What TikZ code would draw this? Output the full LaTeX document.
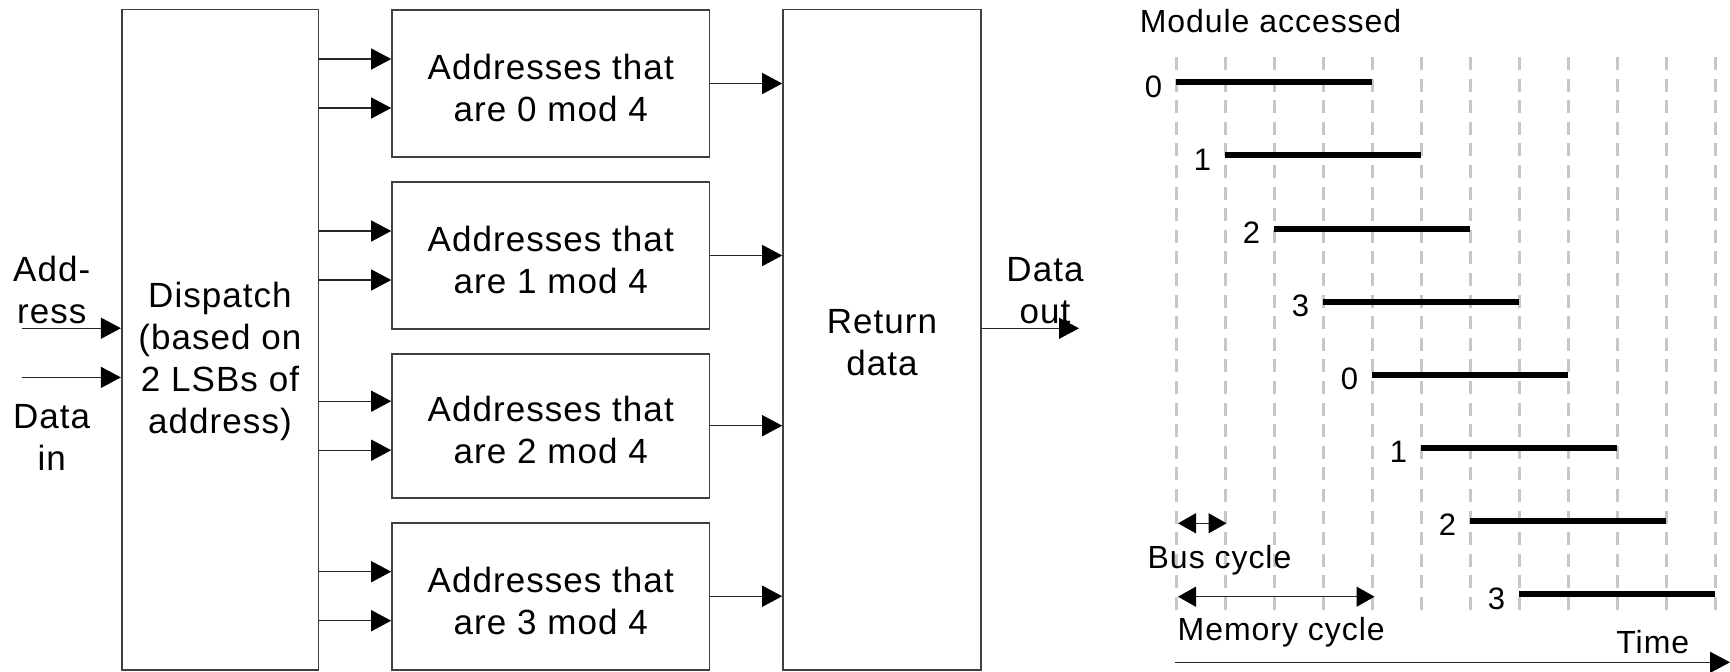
\documentclass[tikz,border=0pt]{standalone}
\usepackage{fontspec}
\setmainfont[LetterSpace=3]{Liberation Sans}
\usetikzlibrary{arrows.meta}
\newcommand\leftfnt{\fontsize{17.5}{21}\selectfont}
\newcommand\rightfnt{\fontsize{16}{19}\selectfont}
\newcommand\digfnt{\fontsize{15.5}{18}\selectfont}
\begin{document}
\begin{tikzpicture}[x=0.5pt,y=-0.5pt,
  box/.style={draw=black!75, line width=0.8pt, inner sep=0pt},
  txt/.style={inner sep=0pt, align=center, font=\leftfnt},
  rtxt/.style={inner sep=0pt, anchor=base west, font=\rightfnt},
  dig/.style={inner sep=0pt, anchor=base, font=\digfnt},
  arr/.style={draw=black!85, line width=0.65pt, -{Triangle[length=10pt,width=10.5pt,color=black]}},
  darr/.style={draw=black!85, line width=0.65pt, {Triangle[length=9pt,width=10pt,color=black]}-{Triangle[length=9pt,width=10pt,color=black]}},
  gridline/.style={draw=black!22, line width=1.3pt, dash pattern=on 6.5pt off 4.3pt},
  bar/.style={draw=black, line width=3pt},
]
\useasboundingbox (0,0) rectangle (1730,671);

% ---------- left block diagram ----------
\node[box, minimum width=98.3pt, minimum height=330.2pt] (disp) at (220,339.5) {};
\node[txt] (dispt) at (220,361) {Dispatch\\(based on\\2 LSBs of\\address)};

\node[box, minimum width=158.75pt, minimum height=73.5pt] (m0) at (550.75,83.5) {};
\node[box, minimum width=158.75pt, minimum height=73.5pt] (m1) at (550.75,255.5) {};
\node[box, minimum width=158.75pt, minimum height=72pt] (m2) at (550.75,425.7) {};
\node[box, minimum width=158.75pt, minimum height=73.5pt] (m3) at (550.75,596.2) {};
\foreach \i in {0,1,2,3}{
  \node[txt] (m\i t) at ([yshift=-2.25pt]m\i.center) {Addresses that\\are \i{} mod 4};
}

\node[box, minimum width=99pt, minimum height=330.25pt] (ret) at (882,339.75) {};
\node[txt] (rett) at (882,342.5) {Return\\data};

\foreach \i in {0,1,2,3}{
  \draw[arr] ([yshift=12.25pt]m\i.west -| disp.east) -- ([yshift=12.25pt]m\i.west);
  \draw[arr] ([yshift=-12.25pt]m\i.west -| disp.east) -- ([yshift=-12.25pt]m\i.west);
  \draw[arr] (m\i.east) -- (m\i.east -| ret.west);
}

\coordinate (ain) at (21.7,328.2);
\coordinate (din) at (21.7,377.4);
\draw[arr] (ain) -- (ain -| disp.west);
\draw[arr] (din) -- (din -| disp.west);
\node[txt] (addrt) at (51.7,290) {Add-\\ress};
\node[txt] (dint) at (51.7,437.4) {Data\\in};

\coordinate (dout) at (1079,328.3);
\draw[arr] (dout -| ret.east) -- (dout);
\node[txt] (doutt) at (1045,290.5) {Data\\out};

% ---------- right timing chart ----------
\node[rtxt] (modt) at (1139.4,32.3) {Module accessed};

\foreach \i in {0,...,11}{
  \draw[gridline] (1176.4+49*\i,57) -- (1176.4+49*\i,618);
}

\foreach \k/\m in {0/0,1/1,2/2,3/3,4/0,5/1,6/2,7/3}{
  \coordinate (b\k s) at (1176.4+49*\k,82.3+73.1*\k);
  \coordinate (b\k e) at (1176.4+49*\k+196,82.3+73.1*\k);
  \draw[bar] (b\k s) -- (b\k e);
  \node[dig] (l\k) at (1153.4+49*\k,97.3+73.1*\k) {\m};
}

\coordinate (bus0) at (1178,523.3);
\coordinate (bus1) at (1226.5,523.3);
\draw[darr] (bus0) -- (bus1);
\node[rtxt] (bust) at (1147.3,568.3) {Bus cycle};

\coordinate (mem0) at (1178,596.7);
\coordinate (mem1) at (1374.5,596.7);
\draw[darr] (mem0) -- (mem1);
\node[rtxt] (memt) at (1177.3,640) {Memory cycle};

\coordinate (t0) at (1175,662.3);
\coordinate (t1) at (1730,662.3);
\draw[arr] (t0) -- (t1);
\node[rtxt] (timet) at (1616,653.3) {Time};
\end{tikzpicture}
\end{document}
